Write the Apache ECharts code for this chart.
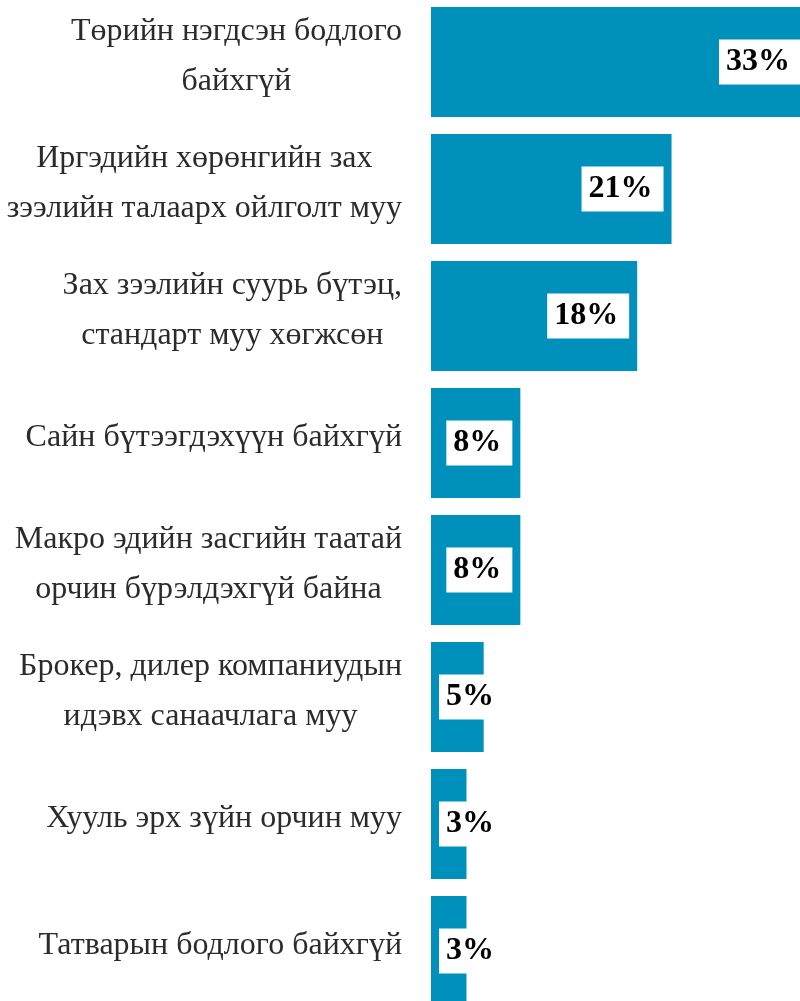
<!DOCTYPE html>
<html>
<head>
<meta charset="utf-8">
<script src="https://cdn.jsdelivr.net/npm/echarts@6/dist/echarts.min.js"></script>
<style>
html,body{margin:0;padding:0;background:#fff;}
#chart{width:800px;height:1001px;}
</style>
</head>
<body>
<div id="chart"></div>
<script>
const categories = [
  "Төрийн нэгдсэн бодлого\nбайхгүй",
  "Иргэдийн хөрөнгийн зах\nзээлийн талаарх ойлголт муу",
  "Зах зээлийн суурь бүтэц,\nстандарт муу хөгжсөн",
  "Сайн бүтээгдэхүүн байхгүй",
  "Макро эдийн засгийн таатай\nорчин бүрэлдэхгүй байна",
  "Брокер, дилер компаниудын\nидэвх санаачлага муу",
  "Хууль эрх зүйн орчин муу",
  "Татварын бодлого байхгүй"
];
const values = [33, 21, 18, 7.8, 7.8, 4.6, 3.1, 3.1];

const chart = echarts.init(document.getElementById('chart'), null, {renderer: 'canvas'});

const seriesData = values.map(v => ({
  value: v,
  label: v < 6 ? {position: 'insideLeft'} : {position: 'insideRight'}
}));

chart.setOption({
  animation: false,
  backgroundColor: '#ffffff',
  grid: {left: 431, top: -1.5, width: 378, height: 1016, containLabel: false, outerBoundsMode: 'none'},
  xAxis: {
    type: 'value', min: 0, max: 33,
    show: false
  },
  yAxis: {
    type: 'category',
    inverse: true,
    data: categories,
    axisLine: {show: false},
    axisTick: {show: false},
    splitLine: {show: false},
    axisLabel: {
      margin: 29,
      align: 'right',
      padding: [0, 0, 10, 0],
      formatter: function (s) {
        return s.split('\n').map(l => '{c|' + l + '}').join('\n');
      },
      rich: {
        c: {
          align: 'center',
          fontFamily: 'Liberation Serif',
          fontSize: 32,
          lineHeight: 50,
          color: '#2b2b2b'
        }
      }
    }
  },
  series: [{
    type: 'bar',
    data: seriesData,
    barWidth: 110,
    itemStyle: {color: '#0090bc'},
    label: {
      show: true,
      distance: 8,
      formatter: p => Math.round(p.value) + '%',
      fontFamily: 'Liberation Serif',
      fontWeight: 'bold',
      fontSize: 32,
      color: '#000000',
      backgroundColor: '#ffffff',
      lineHeight: 45,
      padding: [0, 11, 0, 7]
    }
  }]
});
</script>
</body>
</html>
